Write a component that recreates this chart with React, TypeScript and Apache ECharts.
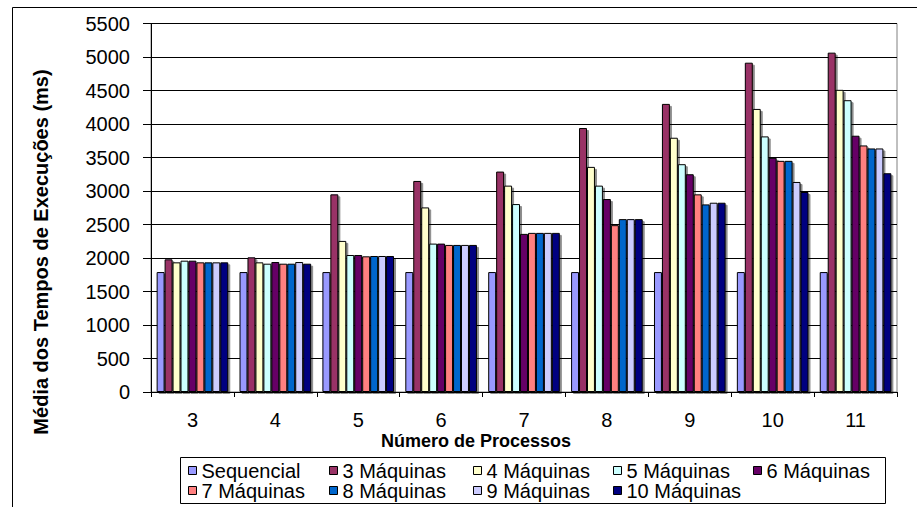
import React, { useEffect, useRef } from "react";
import * as echarts from "echarts";

// Average execution time (ms) per number of processes, for each machine setup
const categories = ["3", "4", "5", "6", "7", "8", "9", "10", "11"];
const seriesNames = [
  "Sequencial",
  "3 Máquinas",
  "4 Máquinas",
  "5 Máquinas",
  "6 Máquinas",
  "7 Máquinas",
  "8 Máquinas",
  "9 Máquinas",
  "10 Máquinas",
];
const sequencial = [1790, 1790, 1790, 1790, 1790, 1790, 1790, 1790, 1790];
const maquinas3 = [1980, 2010, 2950, 3150, 3290, 3940, 4300, 4915, 5065];
const maquinas4 = [1935, 1935, 2255, 2755, 3080, 3360, 3795, 4225, 4510];
const maquinas5 = [1960, 1915, 2045, 2215, 2805, 3080, 3400, 3815, 4355];
const maquinas6 = [1960, 1940, 2045, 2215, 2360, 2880, 3250, 3495, 3825];
const maquinas7 = [1935, 1915, 2025, 2195, 2375, 2490, 2950, 3450, 3680];
const maquinas8 = [1935, 1915, 2030, 2195, 2375, 2580, 2800, 3450, 3635];
const maquinas9 = [1935, 1940, 2030, 2195, 2375, 2580, 2825, 3135, 3635];
const maquinas10 = [1935, 1915, 2030, 2195, 2375, 2580, 2825, 2985, 3265];
const yTicks = { min: 0, max: 5500, interval: 500 };

const colors = [
  "#9999FF",
  "#993366",
  "#FFFFCC",
  "#CCFFFF",
  "#660066",
  "#FF8080",
  "#0066CC",
  "#CCCCFF",
  "#000080",
];

const FONT = "'Liberation Sans', Arial, sans-serif";

export default function App() {
  const ref = useRef<HTMLDivElement>(null);

  useEffect(() => {
    if (!ref.current) return;
    const chart = echarts.init(ref.current, null, { renderer: "svg" });
    const values = [
      sequencial,
      maquinas3,
      maquinas4,
      maquinas5,
      maquinas6,
      maquinas7,
      maquinas8,
      maquinas9,
      maquinas10,
    ];

    // legend laid out as a two-row table with fixed columns
    const legendCols = [188, 329, 473, 613, 753];
    const legendRows = [460.5, 480.5];
    const legends = seriesNames.map((name, i) => ({
      data: [name],
      left: legendCols[i % 5],
      top: legendRows[Math.floor(i / 5)],
      padding: 0,
      itemWidth: 8,
      itemHeight: 8,
      icon: "rect",
      itemStyle: {
        borderColor: "#000",
        borderWidth: 1,
        shadowColor: "transparent",
        shadowOffsetX: 0,
        shadowOffsetY: 0,
      },
      textStyle: {
        fontFamily: FONT,
        fontSize: 20,
        lineHeight: 20,
        color: "#000",
      },
      selectedMode: false,
    }));

    chart.setOption({
      animation: false,
      backgroundColor: "#fff",
      color: colors,
      textStyle: { fontFamily: FONT },
      grid: {
        left: 151,
        right: 20,
        top: 23.5,
        bottom: 115,
        show: true,
        borderColor: "#808080",
        borderWidth: 1,
        backgroundColor: "#fff",
      },
      legend: legends,
      graphic: [
        {
          type: "rect",
          shape: { x: 12.5, y: 7.5, width: 1000, height: 600 },
          style: { fill: "none", stroke: "#000", lineWidth: 1 },
          z: -10,
          silent: true,
        },
        {
          type: "rect",
          shape: { x: 180.5, y: 457.5, width: 705, height: 46 },
          style: { fill: "#fff", stroke: "#000", lineWidth: 1 },
          z: -5,
          silent: true,
        },
        {
          type: "text",
          x: 41,
          y: 252,
          rotation: Math.PI / 2,
          style: {
            text: "Média dos Tempos de Execuções (ms)",
            fontFamily: FONT,
            fontSize: 20,
            fontWeight: "bold",
            fill: "#000",
            align: "center",
            verticalAlign: "middle",
          },
        },
        {
          type: "text",
          x: 476,
          y: 441,
          style: {
            text: "Número de Processos",
            fontFamily: FONT,
            fontSize: 18,
            fontWeight: "bold",
            fill: "#000",
            align: "center",
            verticalAlign: "middle",
          },
        },
      ],
      xAxis: {
        type: "category",
        data: categories,
        boundaryGap: true,
        axisLine: { show: true, lineStyle: { color: "#000", width: 1 } },
        axisTick: {
          show: true,
          inside: false,
          length: 5,
          interval: 0,
          lineStyle: { color: "#000" },
        },
        axisLabel: {
          margin: 18,
          fontSize: 20,
          color: "#000",
          fontFamily: FONT,
          interval: 0,
        },
        splitLine: { show: false },
      },
      yAxis: {
        type: "value",
        min: yTicks.min,
        max: yTicks.max,
        interval: yTicks.interval,
        axisLine: { show: true, lineStyle: { color: "#000", width: 1 } },
        axisTick: {
          show: true,
          inside: false,
          length: 8,
          lineStyle: { color: "#000" },
        },
        axisLabel: {
          margin: 21,
          fontSize: 20,
          color: "#000",
          fontFamily: FONT,
          formatter: (v: number) => String(v),
        },
        splitLine: { show: true, lineStyle: { color: "#000", width: 1 } },
      },
      series: seriesNames.map((name, i) => ({
        name,
        type: "bar",
        data: values[i],
        barGap: "0%",
        barCategoryGap: "13.6%",
        itemStyle: {
          color: colors[i],
          borderColor: "#000",
          borderWidth: 1,
          shadowColor: "rgba(0,0,0,0.45)",
          shadowOffsetX: 2,
          shadowOffsetY: 2,
          shadowBlur: 0,
        },
        emphasis: { disabled: true },
      })),
    });

    return () => chart.dispose();
  }, []);

  return (
    <div
      ref={ref}
      style={{
        position: "absolute",
        left: 0,
        top: 0,
        width: 917,
        height: 507,
      }}
    />
  );
}
